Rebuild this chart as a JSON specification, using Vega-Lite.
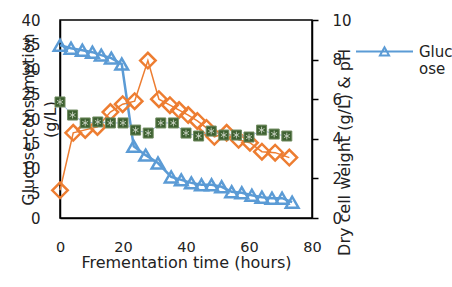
{
  "$schema": "https://vega.github.io/schema/vega-lite/v6.json",
  "width": 252,
  "height": 198,
  "autosize": {"type": "none"},
  "padding": {"left": 60, "top": 20, "right": 140, "bottom": 69},
  "background": "white",
  "config": {
    "view": {"stroke": "#000", "strokeWidth": 1.5},
    "font": "DejaVu Sans",
    "axis": {
      "labelFont": "DejaVu Sans", "titleFont": "DejaVu Sans",
      "labelFontSize": 15, "titleFontSize": 16, "titleFontWeight": "normal",
      "labelColor": "#222", "titleColor": "#222", "labelOverlap": false, "labelFlush": false,
      "grid": false, "domainColor": "#000", "domainWidth": 1.5
    },
    "legend": {
      "labelFont": "DejaVu Sans", "labelFontSize": 15, "labelColor": "#222"
    }
  },
  "datasets": {
    "glucose": [
      {"t": 0, "v": 34.9}, {"t": 3.5, "v": 34.3}, {"t": 7.1, "v": 33.9}, {"t": 10.3, "v": 33.5},
      {"t": 13.1, "v": 32.9}, {"t": 16.3, "v": 32.3}, {"t": 19.6, "v": 31.1}, {"t": 23.4, "v": 14.5},
      {"t": 27.2, "v": 12.7}, {"t": 31.1, "v": 11.1}, {"t": 35.3, "v": 8.3}, {"t": 38.5, "v": 7.7},
      {"t": 41.7, "v": 7.1}, {"t": 44.9, "v": 6.7}, {"t": 48.1, "v": 6.7}, {"t": 51.3, "v": 6.3},
      {"t": 54.5, "v": 5.3}, {"t": 57.7, "v": 5.1}, {"t": 60.9, "v": 4.6}, {"t": 64.1, "v": 4.2},
      {"t": 67.3, "v": 4.0}, {"t": 70.5, "v": 4.0}, {"t": 73.7, "v": 3.2}
    ],
    "dcw": [
      {"t": 0, "v": 1.4}, {"t": 4.2, "v": 4.3}, {"t": 8, "v": 4.45}, {"t": 11.9, "v": 4.6},
      {"t": 16, "v": 5.35}, {"t": 19.9, "v": 5.75}, {"t": 23.7, "v": 5.9}, {"t": 27.9, "v": 7.95},
      {"t": 31.4, "v": 6.0}, {"t": 34.9, "v": 5.7}, {"t": 37.8, "v": 5.45}, {"t": 40.7, "v": 5.2},
      {"t": 43.6, "v": 4.9}, {"t": 46.5, "v": 4.55}, {"t": 49, "v": 4.1}, {"t": 52.9, "v": 4.3},
      {"t": 56.7, "v": 3.95}, {"t": 60.3, "v": 3.8}, {"t": 64.1, "v": 3.35}, {"t": 68.3, "v": 3.3},
      {"t": 72.8, "v": 3.05}
    ],
    "ph": [
      {"t": 0, "v": 5.86}, {"t": 4, "v": 5.2}, {"t": 8, "v": 4.8}, {"t": 12, "v": 4.85},
      {"t": 16, "v": 4.8}, {"t": 20, "v": 4.8}, {"t": 24, "v": 4.44}, {"t": 28, "v": 4.29},
      {"t": 32, "v": 4.8}, {"t": 36, "v": 4.8}, {"t": 40, "v": 4.29}, {"t": 44, "v": 4.14},
      {"t": 48, "v": 4.39}, {"t": 52, "v": 4.19}, {"t": 56, "v": 4.19}, {"t": 60, "v": 4.09},
      {"t": 64, "v": 4.44}, {"t": 68, "v": 4.24}, {"t": 72, "v": 4.14}
    ]
  },
  "layer": [
    {
      "data": {"name": "glucose"},
      "mark": {"type": "line", "strokeWidth": 2.5,
               "point": {"shape": "triangle-up", "filled": false, "size": 160, "strokeWidth": 2.5, "opacity": 1}},
      "encoding": {
        "x": {"field": "t", "type": "quantitative", "scale": {"domain": [0, 80], "nice": false},
              "title": "Frementation time (hours)",
              "axis": {"values": [0, 20, 40, 60, 80], "ticks": false, "labelPadding": 22, "labelFontSize": 14.5, "titlePadding": 1}},
        "y": {"field": "v", "type": "quantitative", "scale": {"domain": [0, 40], "nice": false},
              "axis": {"orient": "left", "values": [0, 5, 10, 15, 20, 25, 30, 35, 40], "ticks": false, "labelPadding": 20,
                       "title": ["Glucose consumption", "(g/L)"], "titleAngle": 270, "titleX": -32, "titleY": 99,
                       "titleBaseline": "middle", "titleAlign": "center", "titleLineHeight": 22}},
        "color": {"datum": "Glucose", "scale": {"range": ["#5B9BD5"]},
                  "legend": {"orient": "none", "legendX": 295, "legendY": 2, "title": null, "padding": 0,
                             "symbolType": "M-1,0H1M-0.16,0.14L0,-0.15L0.16,0.14Z", "symbolSize": 3249,
                             "symbolStrokeWidth": 2, "symbolFillColor": "white", "symbolStrokeColor": "#5B9BD5",
                             "labelExpr": "['Gluc','ose']", "labelBaseline": "middle", "labelOffset": 5}}
      }
    },
    {
      "layer": [
        {
          "data": {"name": "dcw"},
          "mark": {"type": "line", "strokeWidth": 1.5, "color": "#ED7D31",
                   "point": {"shape": "diamond", "filled": false, "size": 240, "strokeWidth": 2.5, "color": "#ED7D31", "opacity": 1}},
          "encoding": {
            "x": {"field": "t", "type": "quantitative", "title": "Frementation time (hours)",
                  "axis": {"values": [0, 20, 40, 60, 80], "ticks": false, "labelPadding": 22, "labelFontSize": 14.5, "titlePadding": 1}},
            "y": {"field": "v", "type": "quantitative", "scale": {"domain": [0, 10], "nice": false},
                  "axis": {"orient": "right", "values": [0, 2, 4, 6, 8, 10], "tickSize": 6, "tickColor": "#000", "tickWidth": 1.5,
                           "labelPadding": 14, "title": "Dry cell weight (g/L) & pH", "titleAngle": 270,
                           "titleX": 32, "titleY": 132, "titleBaseline": "middle", "titleAlign": "center"}}
          }
        },
        {
          "data": {"name": "ph"},
          "mark": {"type": "line", "strokeWidth": 1, "color": "#9DB5D8",
                   "point": {"shape": "square", "filled": true, "size": 100, "color": "#3E6131", "stroke": "#6E8A5E", "strokeWidth": 1, "opacity": 1}},
          "encoding": {
            "x": {"field": "t", "type": "quantitative", "title": "Frementation time (hours)",
                  "axis": {"values": [0, 20, 40, 60, 80], "ticks": false, "labelPadding": 22, "labelFontSize": 14.5, "titlePadding": 1}},
            "y": {"field": "v", "type": "quantitative", "scale": {"domain": [0, 10], "nice": false},
                  "axis": {"orient": "right", "values": [0, 2, 4, 6, 8, 10], "tickSize": 6, "tickColor": "#000", "tickWidth": 1.5,
                           "labelPadding": 14, "title": "Dry cell weight (g/L) & pH", "titleAngle": 270,
                           "titleX": 32, "titleY": 132, "titleBaseline": "middle", "titleAlign": "center"}}
          }
        },
        {
          "data": {"name": "ph"},
          "mark": {"type": "point", "shape": "M0,-1V1M-0.87,-0.5L0.87,0.5M-0.87,0.5L0.87,-0.5", "filled": false, "size": 45, "color": "#C9D3C3", "strokeWidth": 0.9, "opacity": 1},
          "encoding": {
            "x": {"field": "t", "type": "quantitative", "title": "Frementation time (hours)",
                  "axis": {"values": [0, 20, 40, 60, 80], "ticks": false, "labelPadding": 22, "labelFontSize": 14.5, "titlePadding": 1}},
            "y": {"field": "v", "type": "quantitative", "scale": {"domain": [0, 10], "nice": false},
                  "axis": {"orient": "right", "values": [0, 2, 4, 6, 8, 10], "tickSize": 6, "tickColor": "#000", "tickWidth": 1.5,
                           "labelPadding": 14, "title": "Dry cell weight (g/L) & pH", "titleAngle": 270,
                           "titleX": 32, "titleY": 132, "titleBaseline": "middle", "titleAlign": "center"}}
          }
        }
      ]
    }
  ],
  "resolve": {"scale": {"y": "independent"}}
}
